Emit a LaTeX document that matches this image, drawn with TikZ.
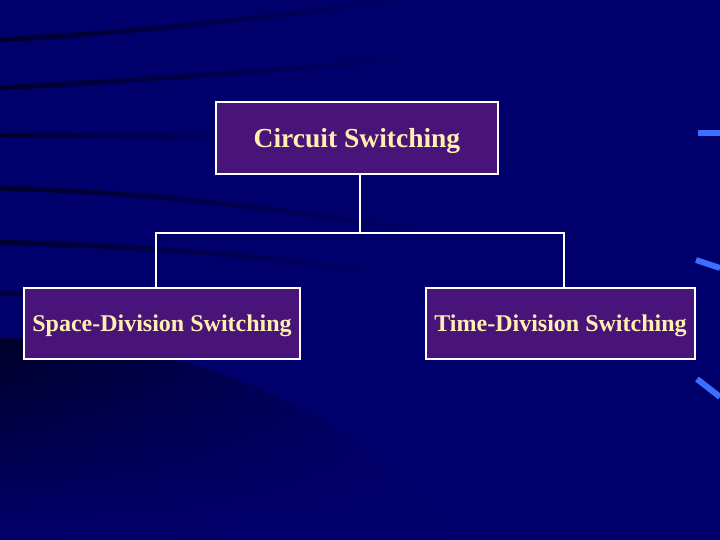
\documentclass[tikz,border=0pt]{standalone}
\usepackage{fontspec}
\setmainfont{Liberation Serif}
\usetikzlibrary{positioning, calc, fadings}

\definecolor{slidenavy}{RGB}{0,0,108}
\definecolor{slidedark}{RGB}{0,0,24}
\definecolor{boxpurple}{RGB}{72,20,122}
\definecolor{labelcream}{RGB}{255,240,175}
\definecolor{glowblue}{RGB}{60,110,255}

\begin{document}
\begin{tikzpicture}[
    x=1pt, y=-1pt,
    box/.style={rectangle, draw=white, line width=2pt, fill=boxpurple, text=labelcream, inner sep=0pt, text depth=0pt},
    link/.style={draw=white, line width=2pt},
    streak/.style={line width=5pt, slidedark, opacity=0.75, path fading=east},
    glow/.style={line width=6pt, glowblue}
]

% slide background
\fill[slidenavy] (0,0) rectangle (720,540);
\useasboundingbox (0,0) rectangle (720,540);
\draw[streak] (-5,40) .. controls (150,32) and (300,14) .. (430,-5);
\draw[streak] (-5,88) .. controls (150,80) and (280,70) .. (420,58);
\draw[streak] (-5,135) .. controls (80,135) and (160,136) .. (260,138);
\draw[streak] (-5,188) .. controls (150,192) and (300,210) .. (460,238);
\draw[streak] (-5,242) .. controls (120,246) and (250,252) .. (400,276);
\draw[streak] (-5,293) -- (60,295);
\shade[top color=slidedark, bottom color=slidenavy, opacity=0.8, path fading=east]
    (0,338) .. controls (150,340) and (330,380) .. (460,540) -- (0,540) -- cycle;
\draw[glow] (698,133) -- (720,133);
\draw[glow] (696,260) -- (720,268);
\draw[glow] (697,379) -- (720,397);

\node (circuit) [box, minimum width=282pt, minimum height=72pt, font=\bfseries\fontsize{27.5}{30}\selectfont] at (357,138) {Circuit Switching};
\node (space) [box, minimum width=276pt, minimum height=71pt, font=\bfseries\fontsize{24}{28}\selectfont] at (162,323.5) {Space-Division Switching};
\node (time) [box, minimum width=269pt, minimum height=71pt, font=\bfseries\fontsize{24}{28}\selectfont, right=124pt of space] {Time-Division Switching};

\coordinate (bus) at (360,233);
\coordinate (busL) at (156,233);
\coordinate (busR) at (564,233);

\draw [link] (circuit.south -| bus) -- (bus);
\draw [link] (space.north -| busL) -- (busL) -- (busR) -- (time.north -| busR);

\end{tikzpicture}
\end{document}
